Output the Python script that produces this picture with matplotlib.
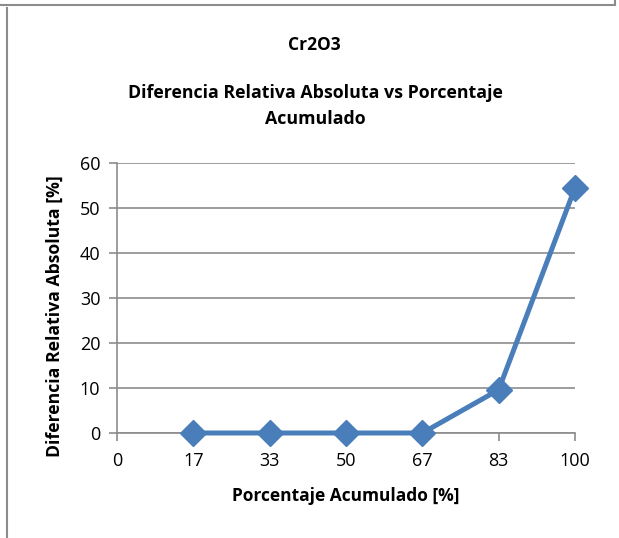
import matplotlib
matplotlib.use("Agg")
import matplotlib.pyplot as plt
from matplotlib.lines import Line2D

x_values = [16.67, 33.33, 50.0, 66.67, 83.33, 100.0]
y_values = [0.0, 0.0, 0.0, 0.0, 9.6, 54.5]
x_ticks = [0, 16.67, 33.33, 50, 66.67, 83.33, 100]
x_tick_labels = ["0", "17", "33", "50", "67", "83", "100"]
y_ticks = [0, 10, 20, 30, 40, 50, 60]

plt.rcParams['font.family'] = ['Open Sans', 'DejaVu Sans']

W, H = 619, 538
fig = plt.figure(figsize=(W / 100, H / 100), dpi=100)
ax = fig.add_axes([117 / W, 1 - 433 / H, (575 - 117) / W, (433 - 163) / H])

color = "#4A7EBB"
grid_c = "#8C8C8C"
ax.plot(x_values, y_values, color=color, lw=3.6, marker="D", markersize=13,
        markerfacecolor=color, markeredgecolor=color, clip_on=False, zorder=5)

ax.set_xlim(0, 100)
ax.set_ylim(0, 60)
ax.set_xticks(x_ticks)
ax.set_xticklabels(x_tick_labels)
ax.set_yticks(y_ticks)
ax.yaxis.grid(True, color=grid_c, lw=1.2)
ax.set_axisbelow(True)
for s in ["top", "right"]:
    ax.spines[s].set_visible(False)
for s in ["left", "bottom"]:
    ax.spines[s].set_color(grid_c)
    ax.spines[s].set_linewidth(1.2)
ax.tick_params(axis="both", direction="out", length=6, width=1.2, color=grid_c,
               labelsize=13, pad=6)
ax.tick_params(axis="x", pad=8)

ax.set_xlabel("Porcentaje Acumulado [%]", fontsize=12.5, fontweight="bold", labelpad=12)
ax.set_ylabel("Diferencia Relativa Absoluta [%]", fontsize=12.7, fontweight="bold")
ax.yaxis.set_label_coords((64 - 117) / (575 - 117), (433 - 316) / 270)

fig.text(314 / W, 1 - 45 / H, "Cr2O3", ha="center", va="center", fontsize=12.5, fontweight="bold")
fig.text(315 / W, 1 - 106 / H, "Diferencia Relativa Absoluta vs Porcentaje\nAcumulado",
         ha="center", va="center", fontsize=12.8, fontweight="bold", linespacing=1.6)

# outer borders
border_c = "#8C8C8C"
fig.add_artist(Line2D([0, 615 / W], [1 - 5 / H, 1 - 5 / H], transform=fig.transFigure, color=border_c, lw=1.5))
fig.add_artist(Line2D([615 / W, 615 / W], [1, 1 - 5 / H], transform=fig.transFigure, color=border_c, lw=1.5))
fig.add_artist(Line2D([7 / W, 7 / W], [1 - 8 / H, 0], transform=fig.transFigure, color=border_c, lw=1.5))

fig.savefig("out.png", dpi=100)
